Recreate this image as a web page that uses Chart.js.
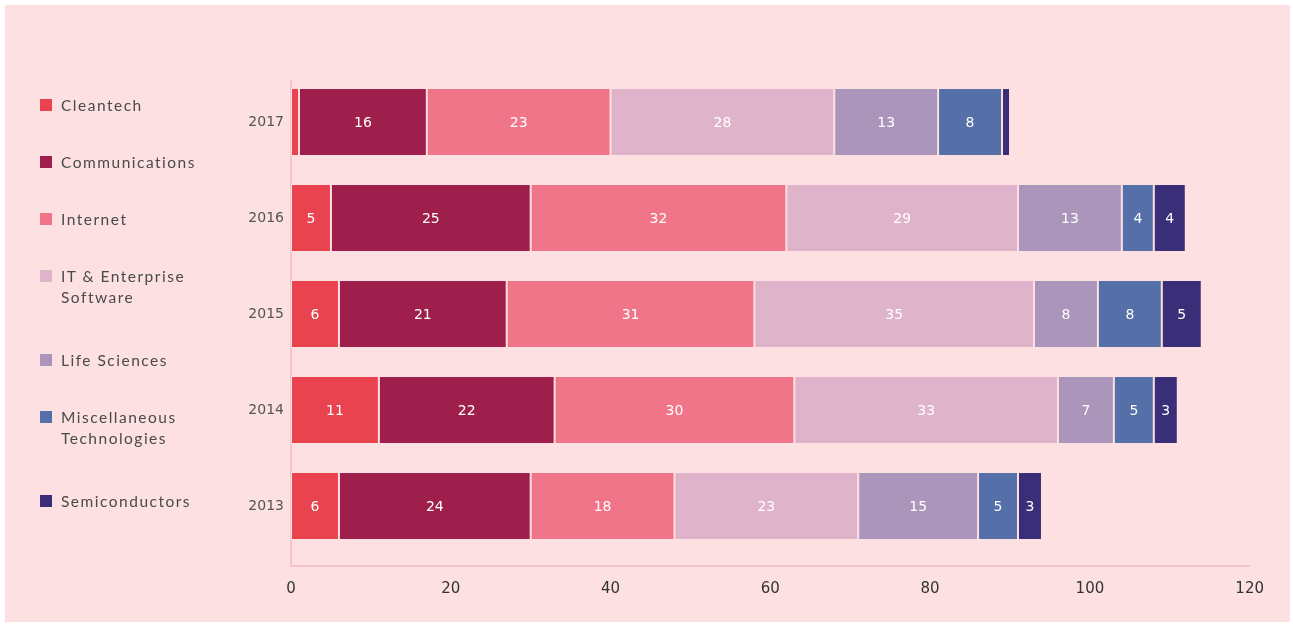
<!DOCTYPE html>
<html>
<head>
<meta charset="utf-8">
<script src="https://cdn.jsdelivr.net/npm/chart.js@4"></script>
<style>
  html, body { margin: 0; padding: 0; background: #fff; width: 1293px; height: 625px; overflow: hidden; }
  #panel { position: absolute; left: 5px; top: 5px; width: 1285px; height: 617px; background: #fde0e1; }
  #chartBox { position: absolute; left: 0; top: 0; width: 1285px; height: 617px; }
  #legend { position: absolute; left: 0; top: 0; font-family: Lato, sans-serif; font-size: 15.5px; color: #4a4a4a; letter-spacing: 1.5px; }
  .item { position: absolute; left: 35px; width: 190px; line-height: 21px; }
  .item .sw { position: absolute; left: 0; top: 4px; width: 12px; height: 12px; }
  .item .tx { position: absolute; left: 21px; white-space: nowrap; }
</style>
</head>
<body>
<div id="panel">
  <div id="chartBox"><canvas id="myChart1"></canvas></div>
  <div id="legend"></div>
</div>
<script>
// years, bottom row is 2013
var years = ['2017', '2016', '2015', '2014', '2013'];

var sectors = ['Cleantech', 'Communications', 'Internet', 'IT & Enterprise Software',
               'Life Sciences', 'Miscellaneous Technologies', 'Semiconductors'];

var cleantech      = [1, 5, 6, 11, 6];
var communications = [16, 25, 21, 22, 24];
var internet       = [23, 32, 31, 30, 18];
var itSoftware     = [28, 29, 35, 33, 23];
var lifeSciences   = [13, 13, 8, 7, 15];
var miscTech       = [8, 4, 8, 5, 5];
var semis          = [1, 4, 5, 3, 3];

var xTicks = [0, 20, 40, 60, 80, 100, 120];

var colors = ['#e8434f', '#9e1f4c', '#f07588', '#dfb3c9', '#ab95bb', '#5570a8', '#3a2e78'];
var series = [cleantech, communications, internet, itSoftware, lifeSciences, miscTech, semis];

var numFont = '"DejaVu Sans", sans-serif';

// legend rows: [top, lines]
var legendRows = [
    [90, ['Cleantech']],
    [147, ['Communications']],
    [204, ['Internet']],
    [261, ['IT &amp; Enterprise', 'Software']],
    [345, ['Life Sciences']],
    [402, ['Miscellaneous', 'Technologies']],
    [486, ['Semiconductors']]
];
var leg = document.getElementById('legend');
legendRows.forEach(function (r, i) {
    var d = document.createElement('div');
    d.className = 'item';
    d.style.top = r[0] + 'px';
    d.innerHTML = '<span class="sw" style="background:' + colors[i] + '"></span><span class="tx">' +
        r[1].join('<br>') + '</span>';
    leg.appendChild(d);
});

// axis lines sit a little outside the band of bars
var axisLines = {
    id: 'axisLines',
    beforeDatasetsDraw: function (chart) {
        var a = chart.chartArea, ctx = chart.ctx;
        ctx.save();
        ctx.strokeStyle = '#f6c3ca';
        ctx.lineWidth = 2;
        ctx.beginPath();
        ctx.moveTo(a.left, a.top + 6);
        ctx.lineTo(a.left, a.bottom + 12);
        ctx.lineTo(a.right, a.bottom + 12);
        ctx.stroke();
        ctx.restore();
    }
};

// white numbers in the middle of each segment (skip slivers)
var segLabels = {
    id: 'segLabels',
    afterDatasetsDraw: function (chart) {
        var ctx = chart.ctx;
        ctx.save();
        ctx.fillStyle = '#ffffff';
        ctx.font = '14px ' + numFont;
        ctx.textAlign = 'center';
        ctx.textBaseline = 'middle';
        chart.data.datasets.forEach(function (ds, i) {
            chart.getDatasetMeta(i).data.forEach(function (bar, j) {
                var v = ds.data[j];
                if (v < 2) return;
                var p = bar.getProps(['x', 'y', 'base'], true);
                ctx.fillText(String(v), (p.x + p.base) / 2, p.y + 1);
            });
        });
        ctx.restore();
    }
};

var datasets = series.map(function (vals, i) {
    return {
        label: sectors[i],
        data: vals,
        backgroundColor: colors[i],
        borderColor: '#fde0e1',
        borderWidth: { left: 1, right: 1, top: 0, bottom: 0 },
        borderSkipped: false,
        barPercentage: 0.6875,
        categoryPercentage: 1
    };
});

new Chart('myChart1', {
    type: 'bar',
    data: { labels: years, datasets: datasets },
    options: {
        indexAxis: 'y',
        animation: false,
        maintainAspectRatio: false,
        responsive: true,
        plugins: { legend: { display: false }, tooltip: { enabled: false } },
        layout: { padding: { left: 0, right: 40, top: 69, bottom: 0 } },
        scales: {
            x: {
                stacked: true,
                min: 0,
                max: 120,
                afterBuildTicks: function (s) { s.ticks = xTicks.map(function (v) { return { value: v }; }); },
                afterFit: function (s) { s.height = 68; },
                grid: { display: false, drawTicks: false },
                border: { display: false },
                ticks: { color: '#333', padding: 26, font: { family: numFont, size: 15 } }
            },
            y: {
                stacked: true,
                afterFit: function (s) { s.width = 286; },
                grid: { display: false, drawTicks: false },
                border: { display: false },
                ticks: { color: '#555', padding: 7, font: { family: numFont, size: 14 } }
            }
        }
    },
    plugins: [axisLines, segLabels]
});
</script>
</body>
</html>
